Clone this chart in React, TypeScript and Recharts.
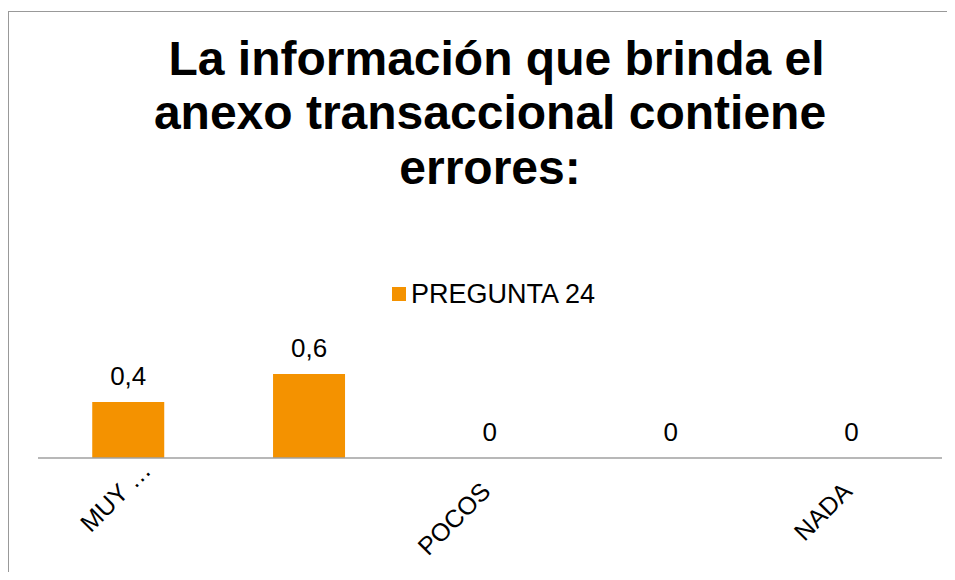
import React from "react";
import { BarChart, Bar, XAxis, YAxis, LabelList, Legend } from "recharts";

const categories = ["MUY …", "ALGUNOS", "POCOS", "MUY POCOS", "NADA"];
const values = [0.4, 0.6, 0, 0, 0];
const seriesName = "PREGUNTA 24";
const titleLines = ["La información que brinda el", "anexo transaccional contiene", "errores:"];

const data = categories.map((c, i) => ({ name: c, value: values[i] }));

const FONT = "'Liberation Sans', Arial, sans-serif";
const ORANGE = "#F49200";

const CategoryTick = (props: any) => {
  const { x, y, payload } = props;
  const text = String(payload.value);
  const truncated = text.endsWith("…");
  const ax = x + 2 + (truncated ? 22 : 0);
  const ay = y + 35 - (truncated ? 21 : 0);
  return (
    <text
      x={ax}
      y={ay}
      textAnchor="end"
      transform={`rotate(-45, ${ax}, ${ay})`}
      fontFamily={FONT}
      fontSize={25}
      fill="#000"
    >
      {text}
    </text>
  );
};

const LegendContent = (props: any) => {
  const payload = props.payload || [];
  return (
    <div>
      {payload.map((p: any, i: number) => (
        <div
          key={i}
          style={{
            display: "flex",
            alignItems: "center",
            fontFamily: FONT,
            fontSize: 27,
            lineHeight: "26px",
            color: "#000",
            whiteSpace: "nowrap",
          }}
        >
          <span style={{ display: "inline-block", width: 14, height: 14, background: ORANGE, marginRight: 5 }} />
          <span>{p.value}</span>
        </div>
      ))}
    </div>
  );
};

export default function App() {
  return (
    <div style={{ position: "relative", width: 947, height: 564, overflow: "hidden", background: "#fff" }}>
      <div
        style={{
          position: "absolute",
          top: 3,
          left: 0,
          width: 1000,
          height: 700,
          borderTop: "1px solid #999",
          borderLeft: "1px solid #999",
          boxSizing: "border-box",
        }}
      />
      <div
        style={{
          position: "absolute",
          top: 24,
          left: 32,
          width: 900,
          textAlign: "center",
          fontFamily: FONT,
          fontWeight: "bold",
          fontSize: 48,
          lineHeight: "54.4px",
          color: "#000",
        }}
      >
        {titleLines.map((t, i) => (
          <div key={i} style={{ paddingLeft: i === 0 ? 13 : 0 }}>
            {t}
          </div>
        ))}
      </div>
      <div style={{ position: "absolute", top: 0, left: 0 }}>
        <BarChart
          width={947}
          height={564}
          data={data}
          margin={{ top: 310, right: 13, left: 30, bottom: 14 }}
          barCategoryGap="30%"
        >
          <XAxis
            dataKey="name"
            interval={1}
            tickLine={false}
            tickSize={0}
            tickMargin={0}
            height={100}
            axisLine={{ stroke: "#A0A0A0", strokeWidth: 1.5 }}
            tick={<CategoryTick />}
          />
          <YAxis hide domain={[0, 1]} />
          <Legend
            layout="vertical"
            verticalAlign="middle"
            align="center"
            wrapperStyle={{ position: "absolute", top: 273, left: 384, width: 260, height: 28 }}
            content={<LegendContent />}
          />
          <Bar dataKey="value" name={seriesName} fill={ORANGE} minPointSize={0.01} isAnimationActive={false}>
            <LabelList
              dataKey="value"
              position="top"
              offset={17}
              fill="#000"
              fontSize={26}
              fontFamily={FONT}
              formatter={(v: any) => String(v).replace(".", ",")}
            />
          </Bar>
        </BarChart>
      </div>
    </div>
  );
}
